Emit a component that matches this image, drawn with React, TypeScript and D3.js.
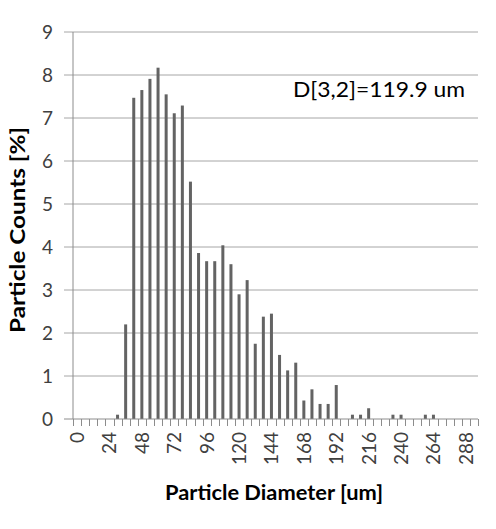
import React, { useEffect, useRef } from "react";
import * as d3 from "d3";

const categories: number[] = [
  0, 6, 12, 18, 24, 30, 36, 42, 48, 54, 60, 66, 72, 78, 84, 90, 96, 102, 108, 114,
  120, 126, 132, 138, 144, 150, 156, 162, 168, 174, 180, 186, 192, 198, 204, 210,
  216, 222, 228, 234, 240, 246, 252, 258, 264, 270, 276, 282, 288, 294,
];
const counts: number[] = [
  0, 0, 0, 0, 0, 0.1, 2.2, 7.47, 7.65, 7.91, 8.17, 7.55, 7.11, 7.29, 5.52, 3.86,
  3.67, 3.67, 4.04, 3.6, 2.9, 3.23, 1.75, 2.38, 2.45, 1.49, 1.13, 1.31, 0.43, 0.69,
  0.35, 0.35, 0.79, 0, 0.1, 0.1, 0.25, 0, 0, 0.1, 0.1, 0, 0, 0.1, 0.1, 0, 0, 0, 0, 0,
];
const yTicks: number[] = [0, 1, 2, 3, 4, 5, 6, 7, 8, 9];
const xTickLabels: number[] = [0, 24, 48, 72, 96, 120, 144, 168, 192, 216, 240, 264, 288];
const annotation = "D[3,2]=119.9 um";
const xTitle = "Particle Diameter [um]";
const yTitle = "Particle Counts [%]";

const W = 496;
const H = 529;
const left = 73;
const right = 478;
const top = 32;
const bottom = 419;
const FONT = "Lato, 'Open Sans', sans-serif";

export default function App() {
  const ref = useRef<SVGSVGElement>(null);
  useEffect(() => {
    const svg = d3.select(ref.current);
    svg.selectAll("*").remove();
    const x = d3.scaleBand<number>().domain(categories).range([left, right]).padding(0);
    const y = d3.scaleLinear().domain([0, 9]).range([bottom, top]);

    // gridlines
    svg
      .append("g")
      .selectAll("line")
      .data(yTicks.filter((t) => t > 0))
      .join("line")
      .attr("x1", left - 9)
      .attr("x2", right)
      .attr("y1", (d) => y(d))
      .attr("y2", (d) => y(d))
      .attr("stroke", "#a6a6a6")
      .attr("stroke-width", 1);

    svg
      .append("line")
      .attr("x1", left - 9)
      .attr("x2", left)
      .attr("y1", y(0))
      .attr("y2", y(0))
      .attr("stroke", "#8c8c8c");

    // bars
    const bw = 3;
    svg
      .append("g")
      .selectAll("rect")
      .data(categories.map((c, i) => ({ c, v: counts[i] })).filter((d) => d.v > 0))
      .join("rect")
      .attr("x", (d) => (x(d.c) as number) + x.bandwidth() / 2 - bw / 2)
      .attr("width", bw)
      .attr("y", (d) => y(d.v))
      .attr("height", (d) => y(0) - y(d.v))
      .attr("fill", "#636363");

    // axis lines
    svg
      .append("line")
      .attr("x1", left)
      .attr("x2", left)
      .attr("y1", top)
      .attr("y2", bottom)
      .attr("stroke", "#8c8c8c");
    svg
      .append("line")
      .attr("x1", left)
      .attr("x2", right)
      .attr("y1", bottom)
      .attr("y2", bottom)
      .attr("stroke", "#8c8c8c");

    // x tick marks at band boundaries
    const bounds = categories.map((c) => x(c) as number).concat([right]);
    svg
      .append("g")
      .selectAll("line")
      .data(bounds)
      .join("line")
      .attr("x1", (d) => Math.round(d) + 0.5)
      .attr("x2", (d) => Math.round(d) + 0.5)
      .attr("y1", bottom)
      .attr("y2", bottom + 7)
      .attr("stroke", "#8c8c8c");

    // y tick labels
    svg
      .append("g")
      .selectAll("text")
      .data(yTicks)
      .join("text")
      .attr("x", 53)
      .attr("y", (d) => y(d) + 7)
      .attr("text-anchor", "end")
      .attr("font-family", FONT)
      .attr("font-size", 19)
      .attr("fill", "#404040")
      .text((d) => String(d));

    // x tick labels
    svg
      .append("g")
      .selectAll("text")
      .data(xTickLabels)
      .join("text")
      .attr(
        "transform",
        (d) => `translate(${(x(d) as number) + x.bandwidth() / 2 + 7},${bottom + 13}) rotate(-90)`
      )
      .attr("text-anchor", "end")
      .attr("font-family", FONT)
      .attr("font-size", 19)
      .attr("fill", "#404040")
      .text((d) => String(d));

    // titles
    svg
      .append("text")
      .attr("x", 165)
      .attr("y", 500)
      .attr("font-family", FONT)
      .attr("font-weight", "bold")
      .attr("font-size", 20)
      .attr("textLength", 218)
      .attr("lengthAdjust", "spacingAndGlyphs")
      .attr("fill", "#000")
      .text(xTitle);
    svg
      .append("text")
      .attr("transform", `translate(25,333) rotate(-90)`)
      .attr("font-family", FONT)
      .attr("font-weight", "bold")
      .attr("font-size", 20)
      .attr("textLength", 206)
      .attr("lengthAdjust", "spacingAndGlyphs")
      .attr("fill", "#000")
      .text(yTitle);

    // annotation
    svg
      .append("text")
      .attr("x", 293)
      .attr("y", 97)
      .attr("font-family", FONT)
      .attr("font-size", 21)
      .attr("textLength", 172)
      .attr("lengthAdjust", "spacingAndGlyphs")
      .attr("fill", "#000")
      .text(annotation);
  }, []);
  return (
    <svg
      ref={ref}
      width={W}
      height={H}
      style={{ position: "absolute", left: 0, top: 0, background: "#fff" }}
    />
  );
}
